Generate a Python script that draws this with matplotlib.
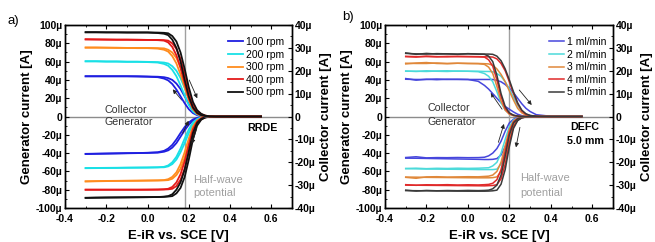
import numpy as np
import matplotlib
matplotlib.use("Agg")
import matplotlib.pyplot as plt
from matplotlib.ticker import MultipleLocator, FuncFormatter, FormatStrFormatter

plt.rcParams['font.family'] = ['Liberation Sans', 'DejaVu Sans']

# potential grid [V]
E = [-0.3, -0.25, -0.2, -0.15, -0.1, -0.05, 0.0, 0.05, 0.08, 0.1, 0.12, 0.14,
     0.16, 0.18, 0.2, 0.22, 0.24, 0.26, 0.28, 0.3, 0.33, 0.4, 0.55]

# ---- panel a: RRDE, rotation rates ----
labels_a = ["100 rpm", "200 rpm", "300 rpm", "400 rpm", "500 rpm"]
colors_a = ["#1f1fe0", "#19e0e6", "#ff8c1e", "#e41a1a", "#111111"]

# collector current [uA] (right axis), forward / backward scan
coll_a_fwd = [
    [17.6,17.6,17.6,17.6,17.6,17.6,17.5,17.4,17.2,16.8,16.0,14.4,12.0,8.8,5.6,2.8,1.2,0.5,0.2,0.1,0.0,0.0,0.0],
    [24.2,24.2,24.1,24.1,24.0,24.0,23.9,23.8,23.6,23.2,22.0,20.0,16.8,12.4,7.6,3.6,1.6,0.6,0.2,0.1,0.0,0.0,0.0],
    [30.2,30.2,30.1,30.1,30.0,30.0,30.0,29.9,29.8,29.2,28.0,25.6,21.6,16.0,10.0,4.8,2.0,0.8,0.3,0.1,0.0,0.0,0.0],
    [33.8,33.7,33.7,33.6,33.6,33.6,33.5,33.5,33.4,33.2,32.0,29.6,25.2,18.4,11.2,5.6,2.4,1.0,0.4,0.1,0.0,0.0,0.0],
    [36.9,36.9,36.8,36.8,36.8,36.8,36.8,36.7,36.6,36.4,35.2,32.8,28.0,20.8,12.8,6.4,2.8,1.2,0.4,0.1,0.0,0.0,0.0],
]
coll_a_bwd = [
    [17.6,17.6,17.6,17.6,17.6,17.5,17.4,17.2,16.6,15.8,14.2,11.8,8.8,5.8,3.2,1.5,0.6,0.2,0.1,0.0,0.0,0.0,0.0],
    [24.1,24.1,24.0,24.0,23.9,23.9,23.8,23.6,23.0,22.2,20.4,17.6,13.6,9.2,5.0,2.2,0.9,0.3,0.1,0.0,0.0,0.0,0.0],
    [30.1,30.1,30.1,30.0,30.0,29.9,29.9,29.7,29.2,28.4,26.4,23.2,18.4,12.8,7.2,3.2,1.2,0.4,0.1,0.0,0.0,0.0,0.0],
    [33.7,33.7,33.6,33.6,33.6,33.5,33.5,33.4,33.2,32.4,30.4,26.8,21.2,14.4,8.0,3.6,1.4,0.5,0.2,0.0,0.0,0.0,0.0],
    [36.8,36.8,36.8,36.8,36.7,36.7,36.7,36.5,36.2,35.6,33.6,30.0,24.0,16.0,8.8,4.0,1.6,0.6,0.2,0.0,0.0,0.0,0.0],
]
# generator current [uA] (left axis)
gen_a_fwd = [
    [-41.0,-40.8,-40.6,-40.4,-40.2,-40.0,-39.6,-39.0,-37.5,-35.0,-31.0,-25.0,-18.0,-11.5,-6.5,-3.2,-1.5,-0.6,-0.2,-0.1,0.0,0.0,0.0],
    [-56.5,-56.4,-56.3,-56.2,-56.0,-55.9,-55.8,-55.5,-55.0,-53.5,-50.0,-44.0,-35.0,-24.0,-14.0,-6.5,-2.8,-1.0,-0.3,-0.1,0.0,0.0,0.0],
    [-71.0,-70.8,-70.6,-70.4,-70.3,-70.2,-70.0,-69.8,-69.5,-68.5,-66.0,-61.0,-52.0,-39.0,-24.0,-11.0,-4.5,-1.6,-0.5,-0.1,0.0,0.0,0.0],
    [-80.0,-80.0,-80.0,-80.0,-80.0,-80.0,-79.9,-79.8,-79.5,-79.0,-77.0,-72.0,-63.0,-49.0,-31.0,-14.0,-5.5,-2.0,-0.6,-0.2,0.0,0.0,0.0],
    [-89.0,-88.8,-88.6,-88.5,-88.4,-88.3,-88.2,-88.0,-87.6,-87.0,-85.0,-80.0,-72.0,-58.0,-38.0,-18.0,-7.0,-2.5,-0.8,-0.2,0.0,0.0,0.0],
]
gen_a_bwd = [
    [-40.8,-40.6,-40.4,-40.2,-40.0,-39.9,-39.8,-39.5,-38.5,-37.0,-34.0,-29.0,-22.0,-15.0,-9.0,-4.5,-2.0,-0.8,-0.3,-0.1,0.0,0.0,0.0],
    [-56.3,-56.2,-56.1,-56.0,-55.9,-55.8,-55.7,-55.6,-55.5,-54.5,-52.0,-47.0,-39.0,-29.0,-18.0,-9.0,-4.0,-1.5,-0.5,-0.1,0.0,0.0,0.0],
    [-70.8,-70.6,-70.4,-70.3,-70.2,-70.1,-70.0,-69.9,-69.8,-69.5,-68.0,-64.0,-57.0,-45.0,-30.0,-15.0,-6.0,-2.2,-0.7,-0.2,0.0,0.0,0.0],
    [-80.0,-80.0,-80.0,-80.0,-80.0,-80.0,-80.0,-79.9,-79.8,-79.6,-79.0,-76.0,-69.0,-57.0,-39.0,-20.0,-8.0,-3.0,-0.9,-0.3,0.0,0.0,0.0],
    [-88.8,-88.6,-88.5,-88.4,-88.3,-88.2,-88.1,-88.0,-87.8,-87.5,-87.0,-84.0,-78.0,-66.0,-47.0,-25.0,-10.0,-3.5,-1.0,-0.3,0.0,0.0,0.0],
]

# ---- panel b: DEFC, flow rates ----
labels_b = ["1 ml/min", "2 ml/min", "3 ml/min", "4 ml/min", "5 ml/min"]
colors_b = ["#4646dc", "#4cdada", "#e0883a", "#e02a2a", "#3a3a3a"]

coll_b_fwd = [
    [16.6,15.9,16.3,16.1,16.3,16.2,16.2,15.4,13.6,12.0,10.0,8.0,6.0,4.4,3.2,2.0,1.0,0.4,0.1,0.0,0.0,0.0,0.0],
    [19.9,19.7,20.0,19.8,19.7,19.9,19.8,19.6,18.8,17.6,15.2,10.8,6.0,2.8,1.2,0.4,0.1,0.0,0.0,0.0,0.0,0.0,0.0],
    [23.0,23.4,23.6,23.2,23.1,23.3,23.2,23.1,22.8,21.6,18.8,13.2,6.8,2.8,1.0,0.4,0.1,0.0,0.0,0.0,0.0,0.0,0.0],
    [26.2,26.0,26.4,26.2,26.1,26.3,26.2,26.1,26.0,24.8,22.0,16.0,8.8,3.6,1.4,0.5,0.2,0.0,0.0,0.0,0.0,0.0,0.0],
    [27.8,27.2,27.6,27.3,27.4,27.2,27.5,27.3,27.2,26.4,24.0,18.0,10.0,4.4,1.6,0.6,0.2,0.0,0.0,0.0,0.0,0.0,0.0],
]
coll_b_bwd = [
    [16.3,16.2,16.2,16.4,16.2,16.3,16.2,16.2,16.2,16.2,16.2,15.8,15.2,14.0,12.4,10.4,8.0,5.6,3.6,2.2,0.8,0.1,0.0],
    [19.8,19.8,19.7,19.9,20.0,19.8,19.8,19.8,19.7,19.7,19.6,18.8,17.6,15.2,12.0,8.4,4.8,2.4,1.0,0.4,0.1,0.0,0.0],
    [23.3,23.2,23.2,23.4,23.2,23.3,23.2,23.2,23.1,23.0,22.4,20.8,18.4,15.2,11.2,7.2,3.6,1.6,0.6,0.2,0.0,0.0,0.0],
    [26.3,26.2,26.2,26.1,26.3,26.2,26.2,26.2,26.1,26.1,26.0,25.2,23.2,20.0,15.2,10.0,5.6,2.4,1.0,0.4,0.1,0.0,0.0],
    [27.6,27.4,27.3,27.5,27.4,27.3,27.4,27.3,27.3,27.3,27.2,26.4,24.4,20.8,16.0,10.8,6.0,2.8,1.2,0.5,0.1,0.0,0.0],
]
gen_b_fwd = [
    [-44.8,-44.0,-45.2,-44.9,-45.0,-44.8,-45.0,-44.9,-44.5,-43.0,-40.0,-35.0,-27.0,-16.0,-7.0,-3.0,-1.0,-0.3,-0.1,0.0,0.0,0.0,0.0],
    [-56.8,-56.5,-57.0,-56.6,-56.8,-56.5,-56.7,-56.5,-56.2,-56.0,-54.0,-50.0,-40.0,-25.0,-11.0,-4.0,-1.5,-0.5,-0.1,0.0,0.0,0.0,0.0],
    [-66.5,-67.5,-66.0,-65.8,-66.2,-66.0,-65.8,-65.9,-65.5,-65.2,-64.0,-60.0,-50.0,-32.0,-14.0,-5.0,-1.8,-0.6,-0.2,0.0,0.0,0.0,0.0],
    [-74.5,-75.2,-74.6,-74.8,-74.5,-74.9,-74.6,-74.8,-74.5,-74.2,-73.0,-69.0,-58.0,-38.0,-17.0,-6.0,-2.0,-0.7,-0.2,0.0,0.0,0.0,0.0],
    [-80.5,-81.5,-80.8,-81.2,-80.9,-81.1,-80.8,-81.0,-80.8,-80.5,-79.0,-75.0,-64.0,-43.0,-20.0,-7.0,-2.5,-0.8,-0.2,0.0,0.0,0.0,0.0],
]
gen_b_bwd = [
    [-45.5,-45.6,-45.8,-46.0,-46.2,-46.4,-46.6,-46.8,-47.0,-47.0,-46.8,-46.0,-42.0,-33.0,-20.0,-9.0,-3.5,-1.2,-0.4,-0.1,0.0,0.0,0.0],
    [-57.0,-57.2,-57.4,-57.5,-57.6,-57.7,-57.8,-58.0,-58.0,-58.0,-58.0,-57.5,-52.0,-38.0,-20.0,-8.0,-3.0,-1.0,-0.3,-0.1,0.0,0.0,0.0],
    [-66.2,-66.3,-66.5,-66.6,-66.7,-66.8,-66.9,-67.0,-67.0,-67.0,-66.8,-66.0,-60.0,-45.0,-25.0,-10.0,-3.5,-1.2,-0.4,-0.1,0.0,0.0,0.0],
    [-75.0,-75.1,-75.2,-75.3,-75.4,-75.5,-75.6,-75.7,-75.8,-75.6,-75.4,-74.5,-68.0,-52.0,-29.0,-11.0,-4.0,-1.3,-0.4,-0.1,0.0,0.0,0.0],
    [-81.0,-81.1,-81.2,-81.3,-81.4,-81.5,-81.6,-81.6,-81.6,-81.5,-81.2,-80.5,-74.0,-58.0,-33.0,-13.0,-4.5,-1.5,-0.5,-0.1,0.0,0.0,0.0],
]


def mu_fmt(v, pos):
    if abs(v) < 1e-9:
        return "0"
    return "%dµ" % round(v)


def style_axes(ax, ax2):
    ax.set_xlim(-0.4, 0.7)
    ax.set_ylim(-100, 100)
    ax2.set_ylim(-40, 40)
    ax.xaxis.set_major_locator(MultipleLocator(0.2))
    ax.xaxis.set_minor_locator(MultipleLocator(0.1))
    ax.xaxis.set_major_formatter(FormatStrFormatter('%.1f'))
    ax.yaxis.set_major_locator(MultipleLocator(20))
    ax.yaxis.set_minor_locator(MultipleLocator(10))
    ax.yaxis.set_major_formatter(FuncFormatter(mu_fmt))
    ax2.yaxis.set_major_locator(MultipleLocator(10))
    ax2.yaxis.set_minor_locator(MultipleLocator(5))
    ax2.yaxis.set_major_formatter(FuncFormatter(mu_fmt))
    ax.tick_params(which='both', direction='in', top=True, labelsize=7.5, pad=2)
    ax.tick_params(axis='x', pad=4.5)
    ax.tick_params(which='major', length=3, width=0.8)
    ax.tick_params(which='minor', length=1.5, width=0.6)
    ax2.tick_params(which='both', direction='in', labelsize=7.5, pad=2)
    ax2.tick_params(which='major', length=3, width=0.8)
    ax2.tick_params(which='minor', length=1.5, width=0.6)
    for lab in ax.get_xticklabels() + ax.get_yticklabels() + ax2.get_yticklabels():
        lab.set_fontweight('bold')
    ax.set_xlabel("E-iR vs. SCE [V]", fontsize=9.5, fontweight='bold', labelpad=4)
    ax.set_ylabel("Generator current [A]", fontsize=9.5, fontweight='bold', labelpad=2)
    ax2.set_ylabel("Collector current [A]", fontsize=9.5, fontweight='bold', labelpad=3)
    for sp in list(ax.spines.values()) + list(ax2.spines.values()):
        sp.set_linewidth(1.0)


def arrow(ax, tail, head):
    ax.annotate('', xy=head, xytext=tail,
                arrowprops=dict(arrowstyle='-|>', color='#222222', lw=0.6,
                                mutation_scale=6, shrinkA=0, shrinkB=0))


fig = plt.figure(figsize=(6.55, 2.42), dpi=100)

# panel a
ax = fig.add_axes([0.0992, 0.1405, 0.3466, 0.756])
ax2 = ax.twinx()
ax.axhline(0, color='#8c8c8c', lw=1.0, zorder=1)
ax.axvline(0.18, color='#a0a0a0', lw=1.0, zorder=1)
for i in range(5):
    ax.plot(E, gen_a_bwd[i], color=colors_a[i], lw=1.3)
    ax.plot(E, gen_a_fwd[i], color=colors_a[i], lw=1.3)
    ax2.plot(E, coll_a_bwd[i], color=colors_a[i], lw=1.3)
    ax2.plot(E, coll_a_fwd[i], color=colors_a[i], lw=1.3, label=labels_a[i])
style_axes(ax, ax2)
ax2.legend(loc='upper right', bbox_to_anchor=(0.965, 0.935), frameon=False,
           fontsize=7.5, handlelength=1.45, handletextpad=0.3, labelspacing=0.25,
           borderpad=0, borderaxespad=0)
ax.text(-0.21, 7, "Collector", fontsize=7.7, color='#333333', va='center')
ax.text(-0.21, -6.5, "Generator", fontsize=7.7, color='#333333', va='center')
ax.text(0.632, -12.6, "RRDE", fontsize=7.7, fontweight='bold', ha='right', va='center')
ax.text(0.22, -69.4, "Half-wave", fontsize=8, color='#a0a0a0', va='center')
ax.text(0.22, -83.6, "potential", fontsize=8, color='#a0a0a0', va='center')
arrow(ax, (0.202, 39.9), (0.241, 19.9))
arrow(ax, (0.166, 18), (0.122, 29.7))
arrow(ax, (0.170, -18.4), (0.199, -4.6))
arrow(ax, (0.238, -12.9), (0.215, -30))
fig.text(0.012, 0.915, "a)", fontsize=9.5, va='center')

# panel b
bx = fig.add_axes([0.5878, 0.1405, 0.348, 0.756])
bx2 = bx.twinx()
bx.axhline(0, color='#8c8c8c', lw=1.0, zorder=1)
bx.axvline(0.2, color='#a0a0a0', lw=1.0, zorder=1)
for i in range(5):
    bx.plot(E, gen_b_bwd[i], color=colors_b[i], lw=1.1)
    bx.plot(E, gen_b_fwd[i], color=colors_b[i], lw=1.1)
    bx2.plot(E, coll_b_bwd[i], color=colors_b[i], lw=1.1)
    bx2.plot(E, coll_b_fwd[i], color=colors_b[i], lw=1.1, label=labels_b[i])
style_axes(bx, bx2)
bx2.legend(loc='upper right', bbox_to_anchor=(0.97, 0.935), frameon=False,
           fontsize=7.5, handlelength=1.45, handletextpad=0.3, labelspacing=0.25,
           borderpad=0, borderaxespad=0)
bx.text(-0.193, 9.3, "Collector", fontsize=7.7, color='#333333', va='center')
bx.text(-0.193, -6.0, "Generator", fontsize=7.7, color='#333333', va='center')
bx.text(0.565, -11.5, "DEFC", fontsize=7.7, fontweight='bold', ha='center', va='center')
bx.text(0.568, -26.8, "5.0 mm", fontsize=7.7, fontweight='bold', ha='center', va='center')
bx.text(0.251, -67.2, "Half-wave", fontsize=8, color='#a0a0a0', va='center')
bx.text(0.251, -83.6, "potential", fontsize=8, color='#a0a0a0', va='center')
arrow(bx, (0.248, 29), (0.308, 12.6))
arrow(bx, (0.165, 8), (0.11, 26))
arrow(bx, (0.147, -28.2), (0.174, -8.1))
arrow(bx, (0.251, -11.8), (0.232, -33.7))
fig.text(0.522, 0.93, "b)", fontsize=9.5, va='center')

fig.savefig("out.png", dpi=100)
